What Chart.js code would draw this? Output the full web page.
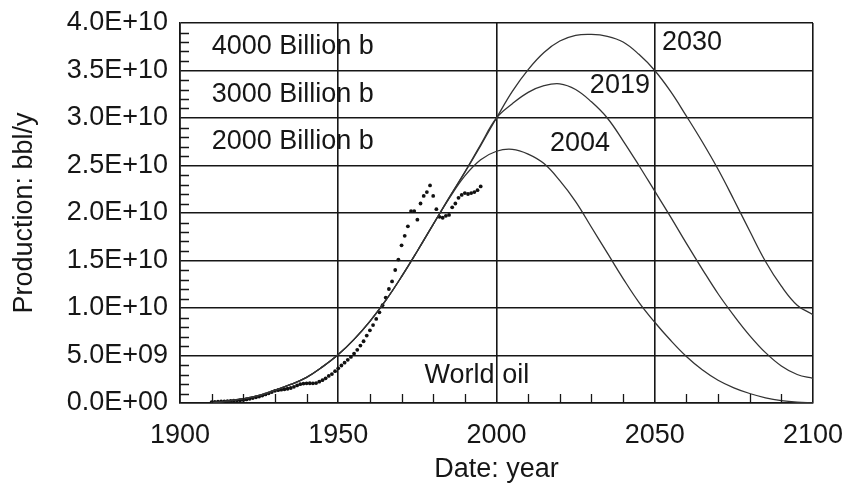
<!DOCTYPE html>
<html>
<head>
<meta charset="utf-8">
<script src="https://cdn.jsdelivr.net/npm/chart.js@4.4.1/dist/chart.umd.min.js"></script>
<style>
  html, body { margin: 0; padding: 0; background: #fff; }
  canvas { display: block; }
</style>
</head>
<body>
<canvas id="chart" width="847" height="486"></canvas>
<script>
// Hubbert fits, values in billions of barrels per year (E+09)
const fitYears = [1910, 1915, 1920, 1925, 1930, 1935, 1940, 1945, 1950, 1955, 1960, 1965, 1970,
  1975, 1980, 1985, 1990, 1995, 2000, 2005, 2010, 2015, 2020, 2025, 2030, 2035, 2040, 2045,
  2050, 2055, 2060, 2065, 2070, 2075, 2080, 2085, 2090, 2095, 2100];

const fit2004 = [0.05, 0.2, 0.45, 0.8, 1.35, 1.95, 2.7, 3.8, 5.1, 6.7, 8.6, 10.8, 13.3,
  16.0, 18.8, 21.5, 23.9, 25.6, 26.5, 26.7, 26.2, 25.2, 23.4, 21.2, 18.5, 15.8, 13.1, 10.6,
  8.5, 6.6, 4.9, 3.5, 2.4, 1.6, 1.0, 0.55, 0.25, 0.08, 0.0];

const fit2019 = [0.05, 0.2, 0.45, 0.8, 1.35, 1.95, 2.7, 3.8, 5.1, 6.7, 8.6, 10.8, 13.3,
  16.0, 18.8, 21.6, 24.3, 27.2, 30.0, 31.5, 32.7, 33.4, 33.6, 33.0, 31.7, 30.0, 27.6, 25.0,
  22.3, 19.6, 16.8, 14.1, 11.5, 9.2, 7.1, 5.3, 3.9, 3.0, 2.6];

const fit2030 = [0.05, 0.2, 0.45, 0.8, 1.35, 1.95, 2.7, 3.8, 5.1, 6.7, 8.6, 10.8, 13.3,
  16.0, 18.8, 21.6, 24.3, 27.1, 30.0, 32.8, 35.1, 36.9, 38.1, 38.7, 38.8, 38.6, 38.0, 36.7,
  35.0, 32.8, 30.2, 27.5, 24.6, 21.4, 18.1, 14.9, 12.3, 10.3, 9.3];

// historic world production (dots)
const prodYears = [1910, 1911, 1912, 1913, 1914, 1915, 1916, 1917, 1918, 1919,
  1920, 1921, 1922, 1923, 1924, 1925, 1926, 1927, 1928, 1929,
  1930, 1931, 1932, 1933, 1934, 1935, 1936, 1937, 1938, 1939,
  1940, 1941, 1942, 1943, 1944, 1945, 1946, 1947, 1948, 1949,
  1950, 1951, 1952, 1953, 1954, 1955, 1956, 1957, 1958, 1959,
  1960, 1961, 1962, 1963, 1964, 1965, 1966, 1967, 1968, 1969,
  1970, 1971, 1972, 1973, 1974, 1975, 1976, 1977, 1978, 1979,
  1980, 1981, 1982, 1983, 1984, 1985, 1986, 1987, 1988, 1989,
  1990, 1991, 1992, 1993, 1994, 1995];

const prodValues = [0.10, 0.12, 0.14, 0.16, 0.18, 0.20, 0.22, 0.24, 0.26, 0.28,
  0.32, 0.38, 0.45, 0.52, 0.60, 0.68, 0.78, 0.90, 1.02, 1.15,
  1.28, 1.35, 1.40, 1.45, 1.50, 1.58, 1.70, 1.85, 1.98, 2.04,
  2.07, 2.08, 2.07, 2.10, 2.25, 2.40, 2.60, 2.85, 3.05, 3.35,
  3.65, 3.95, 4.25, 4.55, 4.85, 5.20, 5.60, 6.05, 6.50, 7.10,
  7.65, 8.20, 8.85, 9.55, 10.3, 11.1, 12.0, 12.8, 14.0, 15.1,
  16.6, 17.6, 18.6, 20.2, 20.2, 19.3, 21.0, 21.8, 22.2, 22.9,
  21.8, 20.4, 19.6, 19.5, 19.7, 19.8, 20.6, 21.0, 21.6, 21.9,
  22.1, 22.0, 22.1, 22.2, 22.4, 22.8];

const yTicks = [0, 5e9, 1e10, 1.5e10, 2e10, 2.5e10, 3e10, 3.5e10, 4e10];
const xTicks = [1900, 1950, 2000, 2050, 2100];

// text written inside the plot: [text, year, value(E+09), align]
const notes = [
  ['4000 Billion b', 1910, 37.5, 'left'],
  ['3000 Billion b', 1910, 32.5, 'left'],
  ['2000 Billion b', 1910, 27.5, 'left'],
  ['2030', 2052.3, 37.9, 'left'],
  ['2019', 2029.5, 33.4, 'left'],
  ['2004', 2016.9, 27.3, 'left'],
  ['World oil', 1993.8, 2.9, 'center']
];

const FONT = 'Liberation Sans, Arial, Helvetica, sans-serif';
const INK = '#161616';

function pts(xs, ys) {
  return xs.map((x, i) => ({ x: x, y: ys[i] * 1e9 }));
}

function sci(v) {
  if (v === 0) return '0.0E+00';
  const e = Math.floor(Math.log10(v) + 1e-9);
  const m = v / Math.pow(10, e);
  return m.toFixed(1) + 'E+' + String(e).padStart(2, '0');
}

function curve(data) {
  return {
    data: data,
    showLine: true,
    borderColor: '#333',
    borderWidth: 1.3,
    pointRadius: 0,
    tension: 0.4,
    fill: false
  };
}

// short inner ticks and free text
const extras = {
  id: 'extras',
  afterDraw(chart) {
    const { ctx, scales: { x, y }, chartArea: a } = chart;
    ctx.save();
    ctx.strokeStyle = INK;
    ctx.lineWidth = 1.3;
    ctx.beginPath();
    for (let v = 1e9; v < 4e10; v += 1e9) {
      if (Math.round(v / 1e9) % 5 === 0) continue;
      const py = Math.round(y.getPixelForValue(v)) + 0.5;
      ctx.moveTo(a.left, py);
      ctx.lineTo(a.left + 9, py);
    }
    for (let yr = 1910; yr < 2100; yr += 10) {
      if (yr % 50 === 0) continue;
      const px = Math.round(x.getPixelForValue(yr)) + 0.5;
      ctx.moveTo(px, a.bottom);
      ctx.lineTo(px, a.bottom - 9);
    }
    ctx.stroke();

    ctx.fillStyle = INK;
    ctx.font = '27px ' + FONT;
    ctx.textBaseline = 'middle';
    notes.forEach(n => {
      ctx.textAlign = n[3];
      ctx.fillText(n[0], x.getPixelForValue(n[1]), y.getPixelForValue(n[2] * 1e9));
    });
    ctx.restore();
  }
};

new Chart(document.getElementById('chart'), {
  type: 'scatter',
  data: {
    datasets: [
      curve(pts(fitYears, fit2004)),
      curve(pts(fitYears, fit2019)),
      curve(pts(fitYears, fit2030)),
      {
        data: pts(prodYears, prodValues),
        showLine: false,
        pointRadius: 1.9,
        pointBorderWidth: 0,
        pointBackgroundColor: '#111'
      }
    ]
  },
  options: {
    responsive: false,
    animation: false,
    layout: { padding: { top: 23, right: 34, left: 0, bottom: 0 } },
    plugins: { legend: { display: false }, tooltip: { enabled: false } },
    scales: {
      x: {
        type: 'linear',
        min: 1900,
        max: 2100,
        afterBuildTicks: s => { s.ticks = xTicks.map(v => ({ value: v })); },
        afterFit: s => { s.height = 83; s.paddingLeft = 0; s.paddingRight = 0; },
        ticks: {
          autoSkip: false,
          maxRotation: 0,
          padding: 16,
          color: INK,
          font: { family: FONT, size: 27 },
          callback: v => String(v)
        },
        grid: { color: INK, lineWidth: 1.6, drawTicks: false },
        border: { color: INK, width: 1.6 },
        title: {
          display: true,
          text: 'Date: year',
          color: INK,
          font: { family: FONT, size: 27 },
          padding: { top: 0, bottom: 0 }
        }
      },
      y: {
        type: 'linear',
        min: 0,
        max: 4e10,
        afterBuildTicks: s => { s.ticks = yTicks.map(v => ({ value: v })); },
        afterFit: s => { s.width = 180; s.paddingTop = 0; s.paddingBottom = 0; },
        ticks: {
          autoSkip: false,
          padding: 12,
          color: INK,
          font: { family: FONT, size: 27 },
          callback: v => sci(v)
        },
        grid: { color: INK, lineWidth: 1.6, drawTicks: false },
        border: { color: INK, width: 1.6 },
        title: {
          display: true,
          text: 'Production: bbl/y',
          color: INK,
          font: { family: FONT, size: 27 },
          padding: { top: 8, bottom: 0 }
        }
      }
    }
  },
  plugins: [extras]
});
</script>
</body>
</html>
